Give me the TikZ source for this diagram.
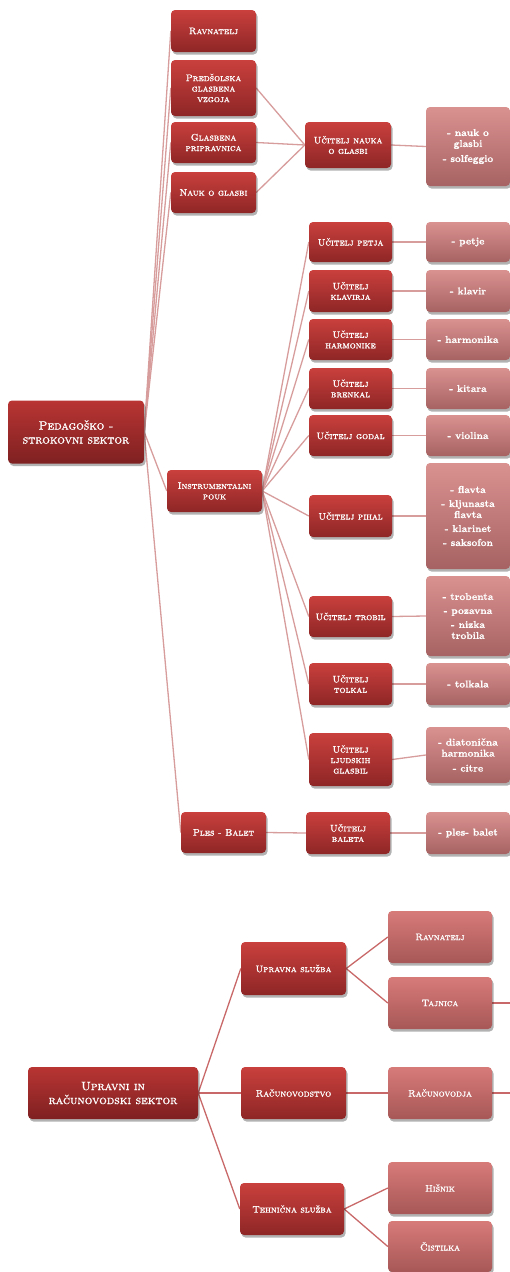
\documentclass[tikz,border=0pt]{standalone}
\usepackage{fontspec}
\usepackage{tikz}
\usetikzlibrary{shadows}
\usetikzlibrary{backgrounds}
\newfontfamily\capsb{lmromancaps10-regular.otf}[FakeBold=1.4]
\newfontfamily\itemb{lmroman10-bold.otf}[FakeBold=0.8]
\definecolor{rootT}{HTML}{B83533}
\definecolor{rootB}{HTML}{7F2021}
\definecolor{redT}{HTML}{C9403D}
\definecolor{redB}{HTML}{8E2626}
\definecolor{pinkT}{HTML}{DA9290}
\definecolor{pinkB}{HTML}{A66262}
\definecolor{roseT}{HTML}{D77B79}
\definecolor{roseB}{HTML}{A75757}
\definecolor{lnA}{HTML}{D79C9C}
\definecolor{lnB}{HTML}{C96868}
\tikzset{bx/.style={rounded corners=4pt, text=white, align=center, inner sep=1pt,
  drop shadow={shadow xshift=1.5pt, shadow yshift=-2.5pt, opacity=.3, fill=black}}}
\tikzset{sz/.style 2 args={minimum width=#1pt, minimum height=#2pt}}
\tikzset{r/.style={bx, top color=rootT, bottom color=rootB, font=\fontsize{12}{14}\selectfont\capsb}}
\tikzset{d/.style={bx, top color=redT, bottom color=redB, font=\fontsize{9.5}{10.5}\selectfont\capsb}}
\tikzset{p/.style={bx, top color=pinkT, bottom color=pinkB, font=\fontsize{10}{11}\selectfont\itemb}}
\tikzset{q/.style={bx, top color=roseT, bottom color=roseB, font=\fontsize{9.5}{10.5}\selectfont\capsb}}
\tikzset{ln/.style={draw=lnA, line width=1.3pt}}
\tikzset{lb/.style={draw=lnB, line width=1.3pt}}

\begin{document}
\begin{tikzpicture}[x=1pt, y=-1pt]
    \useasboundingbox (0,0) rectangle (510,1272);
    % pedagosko - strokovni sektor
    \node[r, sz={136}{63}] (ped) at (76,432) {Pedagoško -\\strokovni sektor};
    \node[d, sz={85}{42}] (rav) at (213.5,31) {Ravnatelj};
    \node[d, sz={85}{56}] (pred) at (213.5,88) {Predšolska\\glasbena\\vzgoja};
    \node[d, sz={85}{41}] (prip) at (213.5,142.5) {Glasbena\\pripravnica};
    \node[d, sz={85}{41}] (nauk) at (213.5,192.5) {Nauk o glasbi};
    \node[d, sz={95}{42}] (instr) at (214.5,491) {Instrumentalni\\pouk};
    \node[d, sz={85}{41}] (ples) at (223.5,832.5) {Ples - Balet};

    \node[d, sz={86}{46}] (unauk) at (348,145) {Učitelj nauka\\o glasbi};
    \node[d, sz={83}{40}] (upetje) at (350.5,242) {Učitelj petja};
    \node[d, sz={83}{42}] (uklav) at (350.5,291) {Učitelj\\klavirja};
    \node[d, sz={83}{41}] (uharm) at (350.5,339.5) {Učitelj\\harmonike};
    \node[d, sz={83}{41}] (ubrenk) at (350.5,388.5) {Učitelj\\brenkal};
    \node[d, sz={83}{41}] (ugodal) at (350.5,435.5) {Učitelj godal};
    \node[d, sz={83}{42}] (upihal) at (350.5,516) {Učitelj pihal};
    \node[d, sz={83}{41}] (utrob) at (350.5,616.5) {Učitelj trobil};
    \node[d, sz={83}{42}] (utolk) at (350.5,684) {Učitelj\\tolkal};
    \node[d, sz={83}{53}] (uljud) at (350.5,759.5) {Učitelj\\ljudskih\\glasbil};
    \node[d, sz={84}{42}] (ubal) at (348,833) {Učitelj\\baleta};

    \node[p, sz={84}{79}] (lnauk) at (468,146.5) {- nauk o\\glasbi\\[4pt]- solfeggio};
    \node[p, sz={84}{40}] (lpetje) at (468,242) {- petje};
    \node[p, sz={84}{42}] (lklav) at (468,291) {- klavir};
    \node[p, sz={84}{41}] (lharm) at (468,339.5) {- harmonika};
    \node[p, sz={84}{41}] (lkit) at (468,388.5) {- kitara};
    \node[p, sz={84}{41}] (lviol) at (468,435.5) {- violina};
    \node[p, sz={84}{106}] (lpihal) at (468,516) {- flavta\\[3pt]- kljunasta\\flavta\\[3pt]- klarinet\\[3pt]- saksofon};
    \node[p, sz={84}{80}] (ltrob) at (468,616) {- trobenta\\[3pt]- pozavna\\[3pt]- nizka\\trobila};
    \node[p, sz={84}{42}] (ltolk) at (468,684) {- tolkala};
    \node[p, sz={84}{56}] (lljud) at (468,755) {- diatonična\\harmonika\\[4pt]- citre};
    \node[p, sz={84}{42}] (lbal) at (468,833) {- ples- balet};

    % upravni in racunovodski sektor
    \node[r, sz={170}{52}] (upr) at (113,1093) {Upravni in\\računovodski sektor};
    \node[d, sz={105}{53}] (usl) at (293.5,968.5) {Upravna služba};
    \node[d, sz={105}{52}] (rac) at (293.5,1093) {Računovodstvo};
    \node[d, sz={104}{52}] (teh) at (292,1209) {Tehnična služba};
    \node[q, sz={104}{52}] (brav) at (440,937) {Ravnatelj};
    \node[q, sz={104}{52}] (taj) at (440,1003) {Tajnica};
    \node[q, sz={104}{52}] (racj) at (440,1093) {Računovodja};
    \node[q, sz={104}{52}] (his) at (440,1188) {Hišnik};
    \node[q, sz={104}{51}] (cis) at (440,1246.5) {Čistilka};
    \coordinate (tajx) at (510,1003);
    \coordinate (racx) at (510,1093);

    \begin{scope}[on background layer]
    \path (ped.east) edge[ln] (rav.west) edge[ln] (pred.west) edge[ln] (prip.west)
      edge[ln] (nauk.west) edge[ln] (instr.west) edge[ln] (ples.west);
    \path (unauk.west) edge[ln] (pred.east) edge[ln] (prip.east) edge[ln] (nauk.east);
    \path (instr.east) edge[ln] (upetje.west) edge[ln] (uklav.west) edge[ln] (uharm.west)
      edge[ln] (ubrenk.west) edge[ln] (ugodal.west) edge[ln] (upihal.west)
      edge[ln] (utrob.west) edge[ln] (utolk.west) edge[ln] (uljud.west);
    \draw[ln] (ples.east) -- (ubal.west);
    \draw[ln] (unauk.east) -- (lnauk.west);
    \draw[ln] (upetje.east) -- (lpetje.west);
    \draw[ln] (uklav.east) -- (lklav.west);
    \draw[ln] (uharm.east) -- (lharm.west);
    \draw[ln] (ubrenk.east) -- (lkit.west);
    \draw[ln] (ugodal.east) -- (lviol.west);
    \draw[ln] (upihal.east) -- (lpihal.west);
    \draw[ln] (utrob.east) -- (ltrob.west);
    \draw[ln] (utolk.east) -- (ltolk.west);
    \draw[ln] (uljud.east) -- (lljud.west);
    \draw[ln] (ubal.east) -- (lbal.west);

    \path (upr.east) edge[lb] (usl.west) edge[lb] (rac.west) edge[lb] (teh.west);
    \path (usl.east) edge[lb] (brav.west) edge[lb] (taj.west);
    \path (teh.east) edge[lb] (his.west) edge[lb] (cis.west);
    \draw[lb] (rac.east) -- (racj.west);
    \draw[lb] (taj.east) -- (tajx);
    \draw[lb] (racj.east) -- (racx);
    \end{scope}
\end{tikzpicture}
\end{document}
